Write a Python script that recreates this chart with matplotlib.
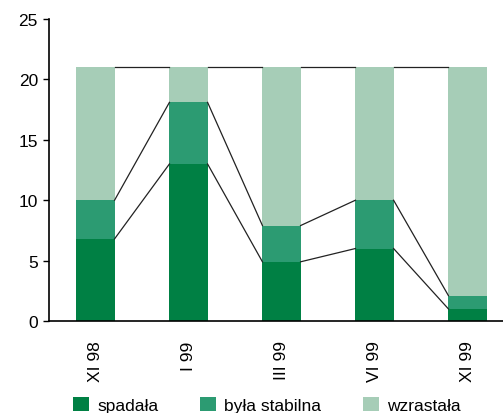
import numpy as np
import matplotlib.pyplot as plt

plt.rcParams["font.family"] = ["Liberation Sans", "DejaVu Sans"]
plt.rcParams["font.size"] = 12.5

# Stacked shares per survey period
periods = ["XI 98", "I 99", "III 99", "VI 99", "XI 99"]
spadala = [6.8, 13.0, 4.9, 6.0, 1.0]
stabilna = [3.2, 5.1, 3.0, 4.0, 1.1]
wzrastala = [11.0, 2.9, 13.1, 11.0, 18.9]

series = [
    ("spadała", spadala, "#008044"),
    ("była stabilna", stabilna, "#2c9b72"),
    ("wzrastała", wzrastala, "#a6cdb7"),
]

fig = plt.figure(figsize=(5.03, 4.14), dpi=100)
ax = fig.add_axes([49 / 503, 1 - 322 / 414, 454 / 503, 302 / 414])

x = np.arange(len(periods))
w = 0.41
bottom = np.zeros(len(periods))
for label, vals, color in series:
    vals = np.asarray(vals)
    ax.bar(x, vals, w, bottom=bottom, color=color, label=label, zorder=2)
    bottom = bottom + vals
    # series lines joining the tops of neighbouring segments
    for i in range(len(x) - 1):
        ax.plot([x[i] + w / 2, x[i + 1] - w / 2], [bottom[i], bottom[i + 1]],
                color="#222222", lw=0.9, zorder=3)

ax.set_xlim(-0.5, -0.5 + 454 / 93)
ax.set_ylim(0, 25)
ax.set_yticks(range(0, 26, 5))
ax.set_xticks(x)
ax.set_xticklabels(periods, rotation=90, va="top")
ax.tick_params(axis="x", length=0, pad=14)
ax.tick_params(axis="y", length=4, width=1, pad=4, direction="out")

for side in ("top", "right"):
    ax.spines[side].set_visible(False)
for side in ("left", "bottom"):
    ax.spines[side].set_linewidth(1.2)
    ax.spines[side].set_color("black")

fig.legend(loc="lower left", bbox_to_anchor=(66 / 503, -7 / 414), ncol=3,
           frameon=False, handlelength=0.9, handleheight=0.9,
           handletextpad=0.5, columnspacing=2.4, borderaxespad=0)

fig.savefig("out.png", dpi=100)
